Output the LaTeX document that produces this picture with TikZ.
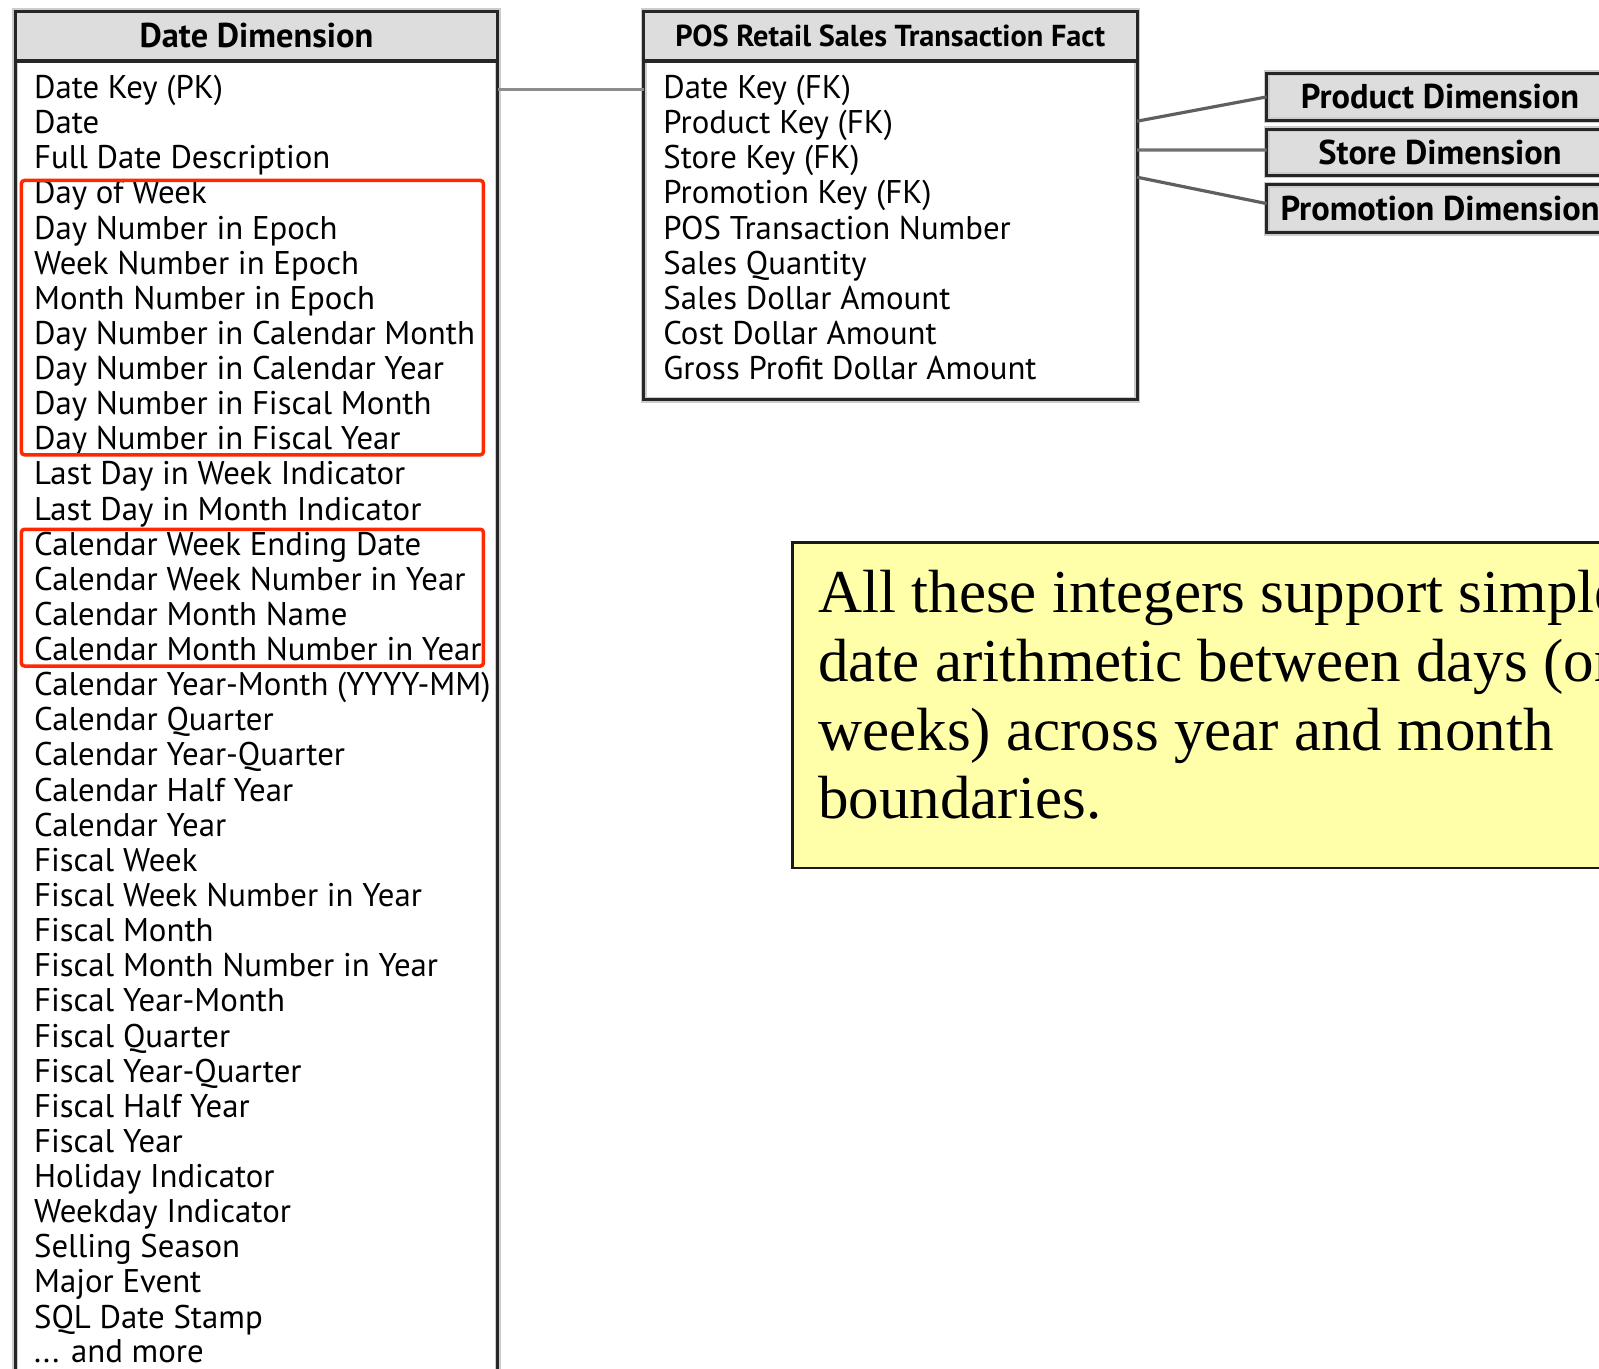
\documentclass[tikz,border=0pt]{standalone}
\usepackage{fontspec}
\setmainfont{Liberation Serif}
\newfontfamily\boxfont{PT Sans}
\definecolor{hdrgray}{RGB}{221,221,221}
\definecolor{hilite}{RGB}{255,40,0}
\definecolor{noteyellow}{RGB}{255,255,170}
\definecolor{connlight}{RGB}{140,140,140}
\definecolor{conndark}{RGB}{95,95,95}
\begin{document}
\begin{tikzpicture}[x=0.5pt,y=-0.5pt,
  halo/.style={draw=black!20, line width=3pt},
  frame/.style={draw=black!85, line width=1.5pt},
  hdrbox/.style={fill=hdrgray, inner sep=0pt, outer sep=0pt, anchor=north west},
  bodybox/.style={fill=white, inner sep=0pt, outer sep=0pt, anchor=north west},
  hdrtext/.style={font=\boxfont\bfseries\fontsize{17.2}{19}\selectfont, inner sep=0pt, anchor=base},
  item/.style={font=\boxfont\fontsize{16.4}{17}\selectfont, inner sep=0pt, anchor=base west},
  redbox/.style={draw=hilite, line width=1.75pt, rounded corners=1.5pt},
  conn/.style={line width=1.6pt},
  notetext/.style={font=\fontsize{30.5}{34}\selectfont, inner sep=0pt, anchor=base west}]
\useasboundingbox (0,0) rectangle (1599,1369);
\clip (0,0) rectangle (1599,1369);

% ---------- Date Dimension ----------
\node[bodybox, halo, minimum width=241.2pt, minimum height=694.4pt] (datebox) at (15.3,11.2) {};
\node[hdrbox, minimum width=241.2pt, minimum height=25pt] (datehdr) at (15.3,11.2) {};
\draw[frame] (datebox.north west) rectangle (datebox.south east);
\draw[draw=black!85, line width=2pt] (datehdr.south west) -- (datehdr.south east);
\node[hdrtext] (datetitle) at (256.5,47.5) {Date Dimension};
\foreach \t [count=\i from 0] in {Date Key (PK), Date, Full Date Description, Day of Week,
  Day Number in Epoch, Week Number in Epoch, Month Number in Epoch,
  Day Number in Calendar Month, Day Number in Calendar Year, Day Number in Fiscal Month,
  Day Number in Fiscal Year, Last Day in Week Indicator, Last Day in Month Indicator,
  Calendar Week Ending Date, Calendar Week Number in Year, Calendar Month Name,
  Calendar Month Number in Year, Calendar Year-Month (YYYY-MM), Calendar Quarter,
  Calendar Year-Quarter, Calendar Half Year, Calendar Year, Fiscal Week,
  Fiscal Week Number in Year, Fiscal Month, Fiscal Month Number in Year,
  Fiscal Year-Month, Fiscal Quarter, Fiscal Year-Quarter, Fiscal Half Year,
  Fiscal Year, Holiday Indicator, Weekday Indicator, Selling Season, Major Event,
  SQL Date Stamp}
  \node[item] (d\i) at (33.7,{98.5+35.13*\i}) {\t};
\node[item, text depth=0pt] (d37) at (33.7,1362) {... and more};

% highlight boxes
\draw[redbox] (21.4,180.5) rectangle (483.4,454.8);
\draw[redbox] (21.4,529.3) rectangle (483.4,666);

% ---------- Fact table ----------
\node[bodybox, halo, minimum width=246.75pt, minimum height=194.3pt] (fact) at (643.5,11.2) {};
\node[hdrbox, minimum width=246.75pt, minimum height=25pt] (facthdr) at (643.5,11.2) {};
\draw[frame] (fact.north west) rectangle (fact.south east);
\draw[draw=black!85, line width=2pt] (facthdr.south west) -- (facthdr.south east);
\node[hdrtext, font=\boxfont\bfseries\fontsize{15.15}{17}\selectfont] (facttitle) at (890.25,47) {POS Retail Sales Transaction Fact};
\foreach \t [count=\i from 0] in {Date Key (FK), Product Key (FK), Store Key (FK),
  Promotion Key (FK), POS Transaction Number, Sales Quantity, Sales Dollar Amount,
  Cost Dollar Amount, Gross Profit Dollar Amount}
  \node[item] (f\i) at (663,{98.5+35.13*\i}) {\t};

% ---------- small dimensions ----------
\node[hdrbox, halo, minimum width=173.4pt, minimum height=23.5pt] (prod) at (1266.6,73.4) {};
\draw[frame] (prod.north west) rectangle (prod.south east);
\node[hdrtext, anchor=center] (prodt) at (prod.center) {Product Dimension};
\node[hdrbox, halo, minimum width=173.4pt, minimum height=23pt] (store) at (1266.6,129.5) {};
\draw[frame] (store.north west) rectangle (store.south east);
\node[hdrtext, anchor=center] (storet) at (store.center) {Store Dimension};
\node[hdrbox, halo, minimum width=173.4pt, minimum height=24pt] (promo) at (1266.6,184.6) {};
\draw[frame] (promo.north west) rectangle (promo.south east);
\node[hdrtext, anchor=center] (promot) at (promo.center) {Promotion Dimension};

% ---------- connectors ----------
\draw[conn, draw=connlight] ([yshift=-39.25pt]datebox.north east) -- ([yshift=-39.25pt]fact.north west);
\draw[conn, draw=conndark] ([yshift=-55pt]fact.north east) -- (prod.west);
\draw[conn, draw=connlight!80!black] ([yshift=-69.4pt]fact.north east) -- ([yshift=1.25pt]store.west);
\draw[conn, draw=conndark] ([yshift=-83pt]fact.north east) -- ([yshift=2.5pt]promo.west);

% ---------- note ----------
\node[bodybox, fill=noteyellow, draw=black!90, line width=1.25pt, minimum width=430pt, minimum height=162.7pt] (note) at (792.4,542.5) {};
\node[notetext] (n1) at (818,612) {All these integers support simple};
\node[notetext] (n2) at (818,681) {date arithmetic between days (or};
\node[notetext] (n3) at (818,750) {weeks) across year and month};
\node[notetext] (n4) at (818,818) {boundaries.};
\end{tikzpicture}
\end{document}
